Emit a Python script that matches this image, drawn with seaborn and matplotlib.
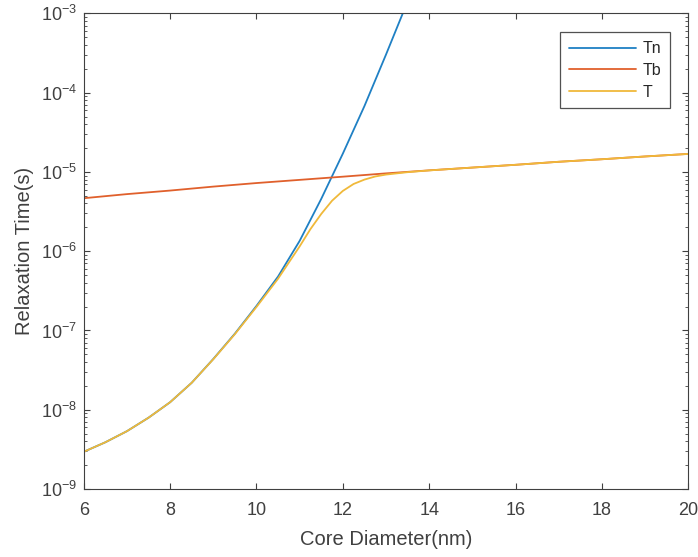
import matplotlib
matplotlib.use("Agg")
import matplotlib.pyplot as plt
import seaborn as sns
import pandas as pd
from matplotlib.ticker import LogLocator, LogFormatterMathtext

# Data
tn_x = [6.0, 6.5, 7.0, 7.5, 8.0, 8.5, 9.0, 9.5, 10.0, 10.5, 11.0, 11.5, 12.0, 12.5, 13.0, 13.5]
tn_y = [2.95e-9, 3.89e-9, 5.37e-9, 7.94e-9, 1.245e-8, 2.19e-8, 4.37e-8, 9.12e-8,
        2.04e-7, 4.79e-7, 1.35e-6, 4.57e-6, 1.70e-5, 6.76e-5, 3.02e-4, 1.41e-3]

tb_x = [6, 7, 8, 9, 10, 11, 12, 13, 14, 15, 16, 17, 18, 19, 20]
tb_y = [4.66e-6, 5.25e-6, 5.82e-6, 6.53e-6, 7.24e-6, 7.94e-6, 8.71e-6, 9.59e-6,
        1.047e-5, 1.135e-5, 1.23e-5, 1.343e-5, 1.445e-5, 1.567e-5, 1.687e-5]

t_x = [6.0, 6.5, 7.0, 7.5, 8.0, 8.5, 9.0, 9.5, 10.0, 10.5, 10.75, 11.0, 11.25, 11.5,
       11.75, 12.0, 12.25, 12.5, 12.75, 13.0, 13.5, 14, 15, 16, 17, 18, 19, 20]
t_y = [2.95e-9, 3.89e-9, 5.37e-9, 7.94e-9, 1.245e-8, 2.19e-8, 4.34e-8, 9.0e-8,
       1.98e-7, 4.5e-7, 7.2e-7, 1.15e-6, 1.9e-6, 2.95e-6, 4.33e-6, 5.76e-6,
       7.05e-6, 8.0e-6, 8.76e-6, 9.26e-6, 9.93e-6, 1.045e-5, 1.135e-5, 1.23e-5,
       1.343e-5, 1.445e-5, 1.567e-5, 1.687e-5]

series_names = ["Tn", "Tb", "T"]
colors = ["#1f80c4", "#e0602c", "#f0b93a"]

x_ticks = [6, 8, 10, 12, 14, 16, 18, 20]

sns.set_style("ticks")
plt.rcParams['font.family'] = ['Liberation Sans', 'DejaVu Sans']
plt.rcParams['mathtext.fontset'] = 'custom'
plt.rcParams['mathtext.rm'] = 'Liberation Sans'
plt.rcParams['mathtext.it'] = 'Liberation Sans:italic'
plt.rcParams['mathtext.bf'] = 'Liberation Sans:bold'

df = pd.concat([
    pd.DataFrame({"d": tn_x, "tau": tn_y, "series": "Tn"}),
    pd.DataFrame({"d": tb_x, "tau": tb_y, "series": "Tb"}),
    pd.DataFrame({"d": t_x, "tau": t_y, "series": "T"}),
], ignore_index=True)

fig = plt.figure(figsize=(6.98, 5.57), dpi=100)
ax = fig.add_axes([0.120, 0.122, 0.866, 0.854])

sns.lineplot(data=df, x="d", y="tau", hue="series", hue_order=series_names,
             palette=colors, linewidth=1.3, estimator=None, sort=True, ax=ax)

ax.set_yscale("log")
ax.set_xlim(6, 20)
ax.set_ylim(1e-9, 1e-3)
ax.set_xticks(x_ticks)
ax.set_xticklabels([str(v) for v in x_ticks])
ax.yaxis.set_major_locator(LogLocator(base=10, numticks=20))
ax.yaxis.set_minor_locator(LogLocator(base=10, subs=range(2, 10), numticks=20))
ax.yaxis.set_major_formatter(LogFormatterMathtext())
ax.xaxis.offsetText.set_visible(False)
ax.yaxis.offsetText.set_visible(False)

tick_color = "#404040"
ax.tick_params(axis="both", which="major", direction="in", length=4, width=0.8,
               top=True, right=True, labelsize=13, colors=tick_color)
ax.tick_params(axis="x", which="major", pad=9)
ax.tick_params(axis="y", which="major", pad=5)
ax.tick_params(axis="y", which="minor", direction="in", length=2, width=0.6,
               right=True, left=True, colors=tick_color)
ax.tick_params(axis="x", which="minor", bottom=False, top=False)
for s in ax.spines.values():
    s.set_visible(True)
    s.set_color(tick_color)
    s.set_linewidth(0.8)

ax.set_xlabel("Core Diameter(nm)", fontsize=14.5, color=tick_color, labelpad=8)
ax.set_ylabel("Relaxation Time(s)", fontsize=14.5, color=tick_color, labelpad=5)

leg = ax.legend(loc="upper right", bbox_to_anchor=(0.97, 0.96), fontsize=11.5,
                frameon=True, fancybox=False, edgecolor="#262626",
                handlelength=4.2, handletextpad=0.4, borderpad=0.55,
                labelspacing=0.42, borderaxespad=0.0)
leg.get_frame().set_linewidth(0.9)

fig.savefig("out.png", dpi=100, facecolor="white")
